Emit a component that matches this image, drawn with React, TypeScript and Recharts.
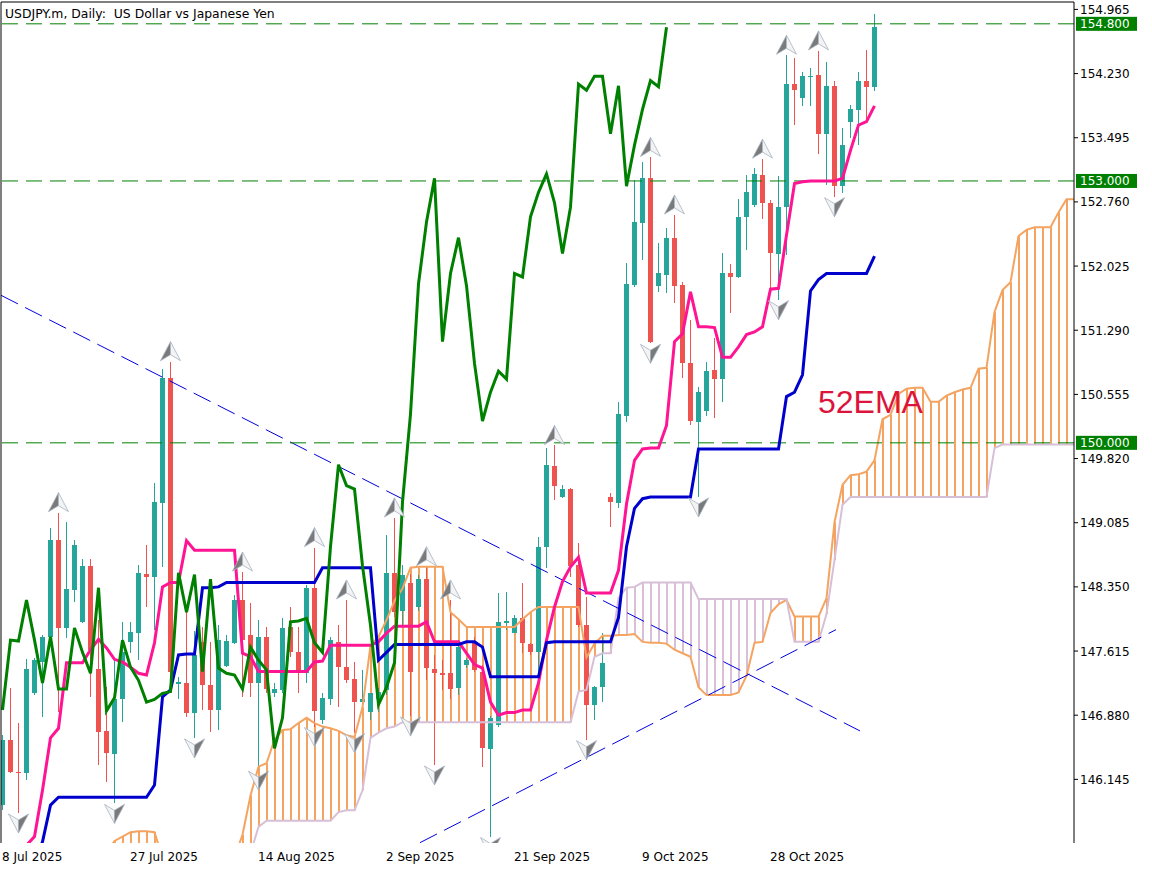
import React from 'react';
import {
  ComposedChart,
  Bar,
  Line,
  XAxis,
  YAxis,
  Scatter,
  ReferenceLine,
  ReferenceDot,
} from 'recharts';

const W = 1152;
const H = 870;
const Y_MIN = 145.416;
const Y_MAX = 155.05;
const X_MIN = -0.1875;
const X_MAX = 133.9375;
const DATE_BASELINE = 861;

const TEAL = '#26A69A';
const RED = '#EF5350';
const FONT = 'DejaVu Sans';

const dateTickIndex = [0, 16, 32, 48, 64, 80, 96];
const dateTickLabels = ['8 Jul 2025', '27 Jul 2025', '14 Aug 2025', '2 Sep 2025', '21 Sep 2025', '9 Oct 2025', '28 Oct 2025'];
const priceTicks = [146.145, 146.88, 147.615, 148.35, 149.085, 149.82, 150.555, 151.29, 152.025, 152.76, 153.495, 154.23, 154.965];
const levelLines = [154.8, 153.0, 150.0];

const opens = [
  145.85, 146.60, 146.23, 146.22, 147.13, 147.49, 147.78, 148.89, 147.88, 148.31,
  147.95, 148.59, 147.41, 146.70, 146.44, 147.06, 147.72, 147.82, 148.50, 148.46,
  149.31, 150.74, 147.24, 147.25, 146.91, 147.72, 147.23, 146.94, 147.44, 147.71,
  148.20, 147.80, 147.25, 147.78, 147.13, 147.17, 147.89, 147.60, 147.36, 148.34,
  146.83, 147.06, 147.72, 147.43, 147.30, 147.03, 146.92, 147.06, 147.17, 148.51,
  148.07, 148.40, 148.12, 148.44, 147.41, 147.36, 147.36, 147.19, 147.46, 147.71,
  147.38, 146.49, 146.77, 147.94, 147.82, 147.99, 147.69, 147.60, 148.81, 149.73,
  149.38, 149.47, 148.60, 147.91, 147.00, 147.20, 149.38, 149.31, 150.31, 151.81,
  152.52, 153.03, 151.80, 151.92, 152.35, 151.81, 150.91, 150.24, 150.36, 150.83,
  150.73, 151.94, 151.90, 152.59, 152.72, 153.07, 152.75, 152.16, 152.70, 154.11,
  153.95, 154.19, 154.21, 153.54, 154.09, 152.94, 153.68, 153.81, 154.15, 154.08,
];
const highs = [
  146.65, 147.19, 146.79, 147.52, 147.54, 147.80, 149.02, 149.20, 149.09, 148.89,
  148.67, 148.67, 147.97, 147.20, 147.51, 147.95, 147.95, 148.60, 148.83, 149.54,
  150.85, 150.93, 147.32, 148.11, 147.84, 147.89, 147.72, 147.91, 147.80, 148.26,
  148.52, 148.17, 147.97, 147.89, 147.25, 147.99, 148.12, 147.89, 148.37, 148.80,
  147.13, 147.78, 147.91, 148.20, 147.49, 147.40, 147.13, 147.19, 148.94, 149.14,
  148.60, 148.50, 148.49, 148.58, 147.57, 147.51, 148.20, 147.74, 147.54, 147.78,
  147.46, 146.87, 148.28, 148.29, 148.03, 148.39, 147.71, 148.92, 149.94, 149.97,
  149.52, 149.48, 148.85, 148.23, 147.22, 147.82, 149.43, 150.47, 152.06, 153.01,
  153.22, 153.27, 152.29, 152.46, 152.61, 151.84, 151.41, 150.64, 150.93, 151.20,
  152.17, 152.05, 152.79, 153.07, 153.15, 153.25, 152.78, 153.06, 154.44, 154.41,
  154.25, 154.29, 154.49, 154.36, 154.15, 153.61, 153.87, 154.25, 154.50, 154.91,
];
const lows = [
  145.79, 146.22, 145.76, 146.14, 147.11, 146.86, 147.76, 146.92, 147.76, 148.18,
  147.94, 147.09, 146.31, 146.12, 145.87, 146.80, 147.59, 147.51, 148.12, 147.86,
  148.58, 147.28, 147.06, 146.86, 146.62, 146.94, 146.69, 146.71, 147.43, 147.69,
  147.09, 147.09, 146.25, 147.13, 147.09, 147.13, 147.55, 147.13, 147.25, 146.75,
  146.78, 147.00, 146.97, 147.25, 146.68, 147.00, 146.83, 146.92, 147.11, 148.01,
  147.91, 146.87, 148.07, 147.28, 146.31, 147.17, 147.06, 147.11, 147.42, 147.38,
  146.29, 145.49, 146.75, 147.86, 147.82, 147.59, 147.57, 147.32, 148.57, 149.35,
  149.37, 148.46, 147.89, 146.60, 146.83, 147.03, 149.04, 149.25, 150.24, 151.79,
  152.10, 151.14, 151.73, 151.72, 151.60, 150.74, 150.20, 149.38, 150.31, 150.29,
  150.47, 151.49, 151.89, 152.21, 152.70, 152.56, 151.77, 151.64, 152.15, 153.64,
  153.86, 153.86, 153.31, 152.95, 152.82, 152.86, 153.49, 153.41, 153.68, 154.03,
];
const closes = [
  146.60, 146.23, 146.22, 147.41, 147.51, 147.78, 148.89, 147.88, 148.33, 148.83,
  148.59, 147.63, 146.69, 146.45, 147.06, 147.60, 147.83, 148.51, 148.46, 149.32,
  150.74, 147.38, 147.26, 146.91, 147.57, 147.23, 146.94, 147.74, 147.73, 148.20,
  147.74, 147.25, 147.78, 147.18, 147.18, 147.88, 147.60, 147.36, 148.34, 146.93,
  147.08, 147.74, 147.43, 147.28, 147.03, 147.06, 147.13, 147.15, 148.51, 148.06,
  148.49, 147.38, 148.44, 147.42, 147.36, 147.34, 147.18, 147.66, 147.51, 147.40,
  146.50, 146.85, 147.95, 147.96, 147.99, 147.71, 147.60, 148.81, 149.75, 149.51,
  149.47, 148.59, 147.91, 147.00, 147.20, 147.48, 149.32, 150.33, 151.82, 152.53,
  153.03, 151.16, 151.94, 152.35, 151.80, 150.91, 150.25, 150.58, 150.82, 150.73,
  151.94, 151.90, 152.59, 152.87, 153.08, 152.75, 152.17, 152.70, 154.11, 154.04,
  154.20, 154.20, 153.54, 154.09, 152.94, 153.41, 153.82, 154.15, 154.08, 154.76,
];

const tenkan = [
  null, null, 145.10, 145.39, 145.49, 146.02, 146.62, 146.73, 147.48, 147.48,
  147.48, 147.63, 147.75, 147.65, 147.52, 147.49, 147.43, 147.36, 147.34, 147.71,
  148.35, 148.40, 148.40, 148.88, 148.77, 148.77, 148.77, 148.77, 148.77, 148.77,
  147.59, 147.55, 147.38, 147.38, 147.38, 147.38, 147.38, 147.38, 147.38, 147.49,
  147.50, 147.68, 147.68, 147.68, 147.68, 147.68, 147.68, 147.72, 147.82, 147.90,
  147.90, 147.90, 147.90, 147.95, 147.72, 147.72, 147.72, 147.72, 147.59, 147.46,
  147.42, 147.03, 146.88, 146.91, 146.91, 146.94, 146.94, 147.25, 147.74, 148.12,
  148.41, 148.58, 148.69, 148.28, 148.28, 148.28, 148.28, 148.54, 149.30, 149.80,
  149.93, 149.94, 149.94, 150.20, 151.16, 151.25, 151.73, 151.33, 151.33, 151.32,
  150.98, 150.98, 151.10, 151.24, 151.27, 151.33, 151.76, 151.77, 152.38, 152.97,
  152.99, 153.00, 153.00, 153.00, 153.00, 153.03, 153.35, 153.64, 153.68, 153.86,
];
const kijun = [
  null, null, null, null, 145.20, 145.43, 145.85, 145.94, 145.94, 145.94,
  145.94, 145.94, 145.94, 145.94, 145.94, 145.94, 145.94, 145.94, 145.94, 146.08,
  147.09, 147.17, 147.57, 147.58, 147.58, 148.34, 148.34, 148.35, 148.40, 148.40,
  148.40, 148.40, 148.40, 148.40, 148.40, 148.40, 148.40, 148.40, 148.40, 148.40,
  148.57, 148.57, 148.57, 148.57, 148.57, 148.57, 148.57, 147.51, 147.60, 147.69,
  147.69, 147.69, 147.69, 147.69, 147.69, 147.69, 147.69, 147.69, 147.72, 147.72,
  147.66, 147.32, 147.32, 147.32, 147.32, 147.32, 147.32, 147.32, 147.71, 147.72,
  147.72, 147.72, 147.72, 147.72, 147.72, 147.72, 147.72, 148.00, 148.81, 149.25,
  149.36, 149.38, 149.38, 149.38, 149.38, 149.38, 149.38, 149.93, 149.93, 149.93,
  149.93, 149.93, 149.93, 149.93, 149.93, 149.93, 149.93, 149.93, 150.53, 150.58,
  150.78, 151.74, 151.87, 151.94, 151.94, 151.94, 151.94, 151.94, 151.94, 152.14,
];
const senkouA = [
  null, null, null, null, null, null, null, null, null, null,
  null, null, null, 145.30, 145.44, 145.49, 145.54, 145.55, 145.55, 145.54,
  145.25, null, null, null, null, null, null, null, null, 145.25,
  145.51, 145.96, 146.29, 146.33, 146.60, 146.71, 146.72, 146.79, 146.85, 146.79,
  146.75, 146.73, 146.70, 146.65, 146.63, 146.97, 147.68, 147.78, 147.97, 148.19,
  148.33, 148.57, 148.58, 148.58, 148.58, 148.58, 148.06, 147.98, 147.89, 147.89,
  147.89, 147.89, 147.89, 147.89, 147.89, 147.98, 148.06, 148.12, 148.12, 148.12,
  148.12, 148.12, 148.12, 147.54, 147.70, 147.79, 147.79, 147.80, 147.80, 147.81,
  147.72, 147.71, 147.71, 147.70, 147.63, 147.59, 147.55, 147.20, 147.11, 147.11,
  147.11, 147.11, 147.14, 147.33, 147.71, 147.72, 148.05, 148.15, 148.20, 148.01,
  148.01, 148.01, 148.01, 148.22, 149.09, 149.52, 149.63, 149.64, 149.67, 149.80,
  150.27, 150.32, 150.56, 150.62, 150.63, 150.63, 150.47, 150.47, 150.54, 150.58,
  150.61, 150.63, 150.85, 150.86, 151.50, 151.75, 151.84, 152.37, 152.44, 152.47,
  152.47, 152.47, 152.64, 152.79, 152.79,
];
const senkouB = [
  null, null, null, null, null, null, null, null, null, null,
  null, null, null, null, null, null, null, null, null, null,
  null, null, null, null, null, null, null, null, null, null,
  null, 145.30, 145.60, 145.67, 145.67, 145.67, 145.67, 145.67, 145.67, 145.67,
  145.67, 145.67, 145.77, 145.79, 145.79, 146.02, 146.62, 146.68, 146.73, 146.75,
  146.80, 146.80, 146.80, 146.80, 146.80, 146.80, 146.80, 146.80, 146.80, 146.80,
  146.80, 146.80, 146.80, 146.80, 146.80, 146.80, 146.80, 146.80, 146.80, 146.80,
  146.80, 146.80, 147.15, 147.17, 147.55, 147.59, 147.59, 148.22, 148.34, 148.35,
  148.40, 148.40, 148.40, 148.40, 148.40, 148.40, 148.40, 148.21, 148.21, 148.21,
  148.21, 148.21, 148.21, 148.21, 148.21, 148.21, 148.21, 148.21, 148.21, 147.72,
  147.72, 147.72, 147.72, 148.04, 148.66, 149.29, 149.38, 149.38, 149.38, 149.38,
  149.38, 149.38, 149.38, 149.38, 149.38, 149.38, 149.38, 149.38, 149.38, 149.38,
  149.38, 149.38, 149.38, 149.38, 149.94, 149.98, 149.98, 149.98, 149.98, 149.98,
  149.98, 149.98, 149.98, 149.98, 149.98,
];

const upFractals = [7, 21, 30, 39, 43, 49, 53, 56, 69, 81, 84, 95, 98, 102];
const downFractals = [2, 14, 24, 32, 39, 44, 51, 54, 61, 73, 81, 87, 97, 104];

const trendLines = [
  { x1: -0.1875, y1: 151.69, x2: 107.19, y2: 146.70 },
  { x1: 52.19, y1: 145.42, x2: 104.19, y2: 147.86 },
];

const CHIKOU_SHIFT = 26;
const N_ROWS = 135;

const rows = Array.from({ length: N_ROWS }, (_, i) => {
  const hasCandle = i < opens.length;
  const a = senkouA[i];
  const b = senkouB[i];
  let hatch: number[] | null = null;
  let hc = '#F4A460';
  if (a != null) {
    const lo0 = b == null ? Y_MIN : Math.min(a, b);
    const hi0 = b == null ? a : Math.max(a, b);
    const lo = Math.max(lo0, Y_MIN);
    const hi = Math.min(hi0, Y_MAX);
    if (hi > lo) hatch = [lo, hi];
    hc = b == null || a >= b ? '#F4A460' : '#D8BFD8';
  }
  const ch = i + CHIKOU_SHIFT < closes.length ? closes[i + CHIKOU_SHIFT] : null;
  return {
    i,
    candle: hasCandle ? [lows[i], highs[i]] : null,
    o: hasCandle ? opens[i] : null,
    h: hasCandle ? highs[i] : null,
    l: hasCandle ? lows[i] : null,
    c: hasCandle ? closes[i] : null,
    tenkan: i < tenkan.length ? tenkan[i] : null,
    kijun: i < kijun.length ? kijun[i] : null,
    chikou: ch,
    sa: a,
    sb: b,
    hatch,
    hc,
  };
});

const upPts = upFractals.map((i) => ({ i, p: highs[i] }));
const downPts = downFractals.map((i) => ({ i, p: lows[i] }));

function CandleShape(props: any) {
  const { x, y, width, height, payload } = props;
  if (!payload || payload.o == null || !isFinite(y) || !isFinite(height)) return null;
  const { o, h, l, c } = payload;
  const cx = x + width / 2;
  const span = h - l;
  const k = span > 0 ? height / span : 0;
  const py = (p: number) => y + (h - p) * k;
  const bodyTop = Math.round(py(Math.max(o, c)));
  const bodyBot = Math.round(py(Math.min(o, c)));
  const color = c >= o ? TEAL : RED;
  const wx = Math.floor(cx) + 0.5;
  const bx = Math.round(cx - 2.5);
  return (
    <g>
      <line x1={wx} x2={wx} y1={Math.round(y)} y2={Math.round(y + height)} stroke={color} strokeWidth={1} />
      <rect x={bx} y={bodyTop} width={5} height={Math.max(1, bodyBot - bodyTop)} fill={color} />
    </g>
  );
}

function HatchShape(props: any) {
  const { x, y, width, height, payload } = props;
  if (!payload || payload.hatch == null || !isFinite(y) || !isFinite(height)) return null;
  const cx = x + width / 2;
  return <rect x={Math.round(cx) - 1} y={y} width={2} height={Math.max(0, height)} fill={payload.hc} />;
}

function UpArrow(props: any) {
  const { cx, cy } = props;
  if (cx == null || cy == null) return null;
  const b = cy - 1;
  const t = cy - 20;
  return (
    <g>
      <polygon points={`${cx},${t} ${cx},${b - 6} ${cx - 10},${b}`} fill="#7a7a7a" stroke="#a7b3c2" strokeWidth={0.8} />
      <polygon points={`${cx},${t} ${cx + 10},${b} ${cx},${b - 6}`} fill="#f3f3f3" stroke="#a7b3c2" strokeWidth={0.8} />
    </g>
  );
}

function DownArrow(props: any) {
  const { cx, cy } = props;
  if (cx == null || cy == null) return null;
  const b = cy + 1;
  const t = cy + 20;
  return (
    <g>
      <polygon points={`${cx},${t} ${cx},${b + 6} ${cx - 10},${b}`} fill="#f3f3f3" stroke="#a7b3c2" strokeWidth={0.8} />
      <polygon points={`${cx},${t} ${cx + 10},${b} ${cx},${b + 6}`} fill="#7a7a7a" stroke="#a7b3c2" strokeWidth={0.8} />
    </g>
  );
}

function DateTick(props: any) {
  const { x, payload } = props;
  const idx = dateTickIndex.indexOf(payload.value);
  if (idx < 0) return null;
  return (
    <text x={x - 0.5} y={DATE_BASELINE} fontSize={12} fontFamily={FONT} fill="#000" textAnchor="start">
      {dateTickLabels[idx]}
    </text>
  );
}

function PriceTick(props: any) {
  const { x, y, payload } = props;
  return (
    <text x={x} y={y + 4.5} fontSize={12} fontFamily={FONT} fill="#000" textAnchor="start">
      {Number(payload.value).toFixed(3)}
    </text>
  );
}

const levelLabel = (value: number) => (props: any) => {
  const vb = props.viewBox || {};
  const x = (vb.x || 0) + (vb.width || 0) + 2;
  const y = vb.y || 0;
  return (
    <g>
      <rect x={x} y={y - 7} width={61} height={14} fill="#008000" />
      <text x={x + 4} y={y + 4.5} fontSize={12} fontFamily={FONT} fill="#fff" textAnchor="start">
        {value.toFixed(3)}
      </text>
    </g>
  );
};

const EmaText = (props: any) => {
  const { cx, cy } = props;
  return (
    <text x={cx} y={cy} fontSize={32} fontFamily="Liberation Sans" fill="#DC143C" textAnchor="start">
      52EMA
    </text>
  );
};

export default function App() {
  return (
    <div style={{ position: 'absolute', left: 0, top: 0, width: W, height: H, background: '#fff' }}>
      <ComposedChart width={W} height={H} data={rows} margin={{ top: 0, right: 0, bottom: 0, left: 0 }}>
        <XAxis
          xAxisId="x"
          dataKey="i"
          type="number"
          domain={[X_MIN, X_MAX]}
          allowDataOverflow
          ticks={dateTickIndex}
          interval={0}
          tick={DateTick}
          tickSize={5}
          tickMargin={0}
          tickLine={{ stroke: '#000' }}
          axisLine={{ stroke: '#000' }}
          height={27}
        />
        <XAxis xAxisId="h" dataKey="i" type="number" domain={[X_MIN, X_MAX]} allowDataOverflow hide />
        <XAxis
          xAxisId="top"
          orientation="top"
          dataKey="i"
          type="number"
          domain={[X_MIN, X_MAX]}
          allowDataOverflow
          height={2}
          tick={false}
          tickLine={false}
          axisLine={{ stroke: '#000' }}
        />
        <YAxis
          yAxisId="p"
          orientation="right"
          type="number"
          domain={[Y_MIN, Y_MAX]}
          allowDataOverflow
          ticks={priceTicks}
          interval={0}
          tick={PriceTick}
          tickSize={4}
          tickMargin={2}
          tickLine={{ stroke: '#000' }}
          axisLine={{ stroke: '#000' }}
          width={78}
        />
        <YAxis
          yAxisId="l"
          orientation="left"
          type="number"
          domain={[0, 1]}
          width={1}
          tick={false}
          tickLine={false}
          axisLine={{ stroke: '#000' }}
        />

        <Bar xAxisId="h" yAxisId="p" dataKey="hatch" barSize={2} shape={HatchShape} isAnimationActive={false} />
        <Line xAxisId="x" yAxisId="p" dataKey="sa" type="linear" stroke="#F4A460" strokeWidth={2} dot={false} activeDot={false} isAnimationActive={false} />
        <Line xAxisId="x" yAxisId="p" dataKey="sb" type="linear" stroke="#D8BFD8" strokeWidth={2} dot={false} activeDot={false} isAnimationActive={false} />

        {trendLines.map((t, k) => (
          <ReferenceLine
            key={`t${k}`}
            xAxisId="x"
            yAxisId="p"
            segment={[{ x: t.x1, y: t.y1 }, { x: t.x2, y: t.y2 }]}
            stroke="#0000DD"
            strokeWidth={1}
            strokeDasharray="19 8"
            ifOverflow="hidden"
          />
        ))}

        {levelLines.map((v) => (
          <ReferenceLine
            key={`lv${v}`}
            xAxisId="x"
            yAxisId="p"
            y={v}
            stroke="#008000"
            strokeWidth={1}
            strokeDasharray="16 8"
            label={levelLabel(v)}
          />
        ))}

        <Bar xAxisId="x" yAxisId="p" dataKey="candle" barSize={5} shape={CandleShape} isAnimationActive={false} />

        <Line xAxisId="x" yAxisId="p" dataKey="tenkan" type="linear" stroke="#FF1493" strokeWidth={3} dot={false} activeDot={false} isAnimationActive={false} />
        <Line xAxisId="x" yAxisId="p" dataKey="kijun" type="linear" stroke="#0000CD" strokeWidth={3} dot={false} activeDot={false} isAnimationActive={false} />
        <Line xAxisId="x" yAxisId="p" dataKey="chikou" type="linear" stroke="#008000" strokeWidth={3} dot={false} activeDot={false} isAnimationActive={false} />

        <Scatter xAxisId="x" yAxisId="p" data={upPts} dataKey="p" shape={UpArrow} isAnimationActive={false} />
        <Scatter xAxisId="x" yAxisId="p" data={downPts} dataKey="p" shape={DownArrow} isAnimationActive={false} />

        <ReferenceDot xAxisId="x" yAxisId="p" x={101.94} y={150.342} r={0} shape={EmaText} />
      </ComposedChart>
      <svg style={{ position: 'absolute', left: 0, top: 0 }} width={420} height={24}>
        <text x={5} y={18} fontSize={12.4} fontFamily={FONT} fill="#000" style={{ whiteSpace: 'pre' }}>
          {'USDJPY.m, Daily:  US Dollar vs Japanese Yen'}
        </text>
      </svg>
    </div>
  );
}
